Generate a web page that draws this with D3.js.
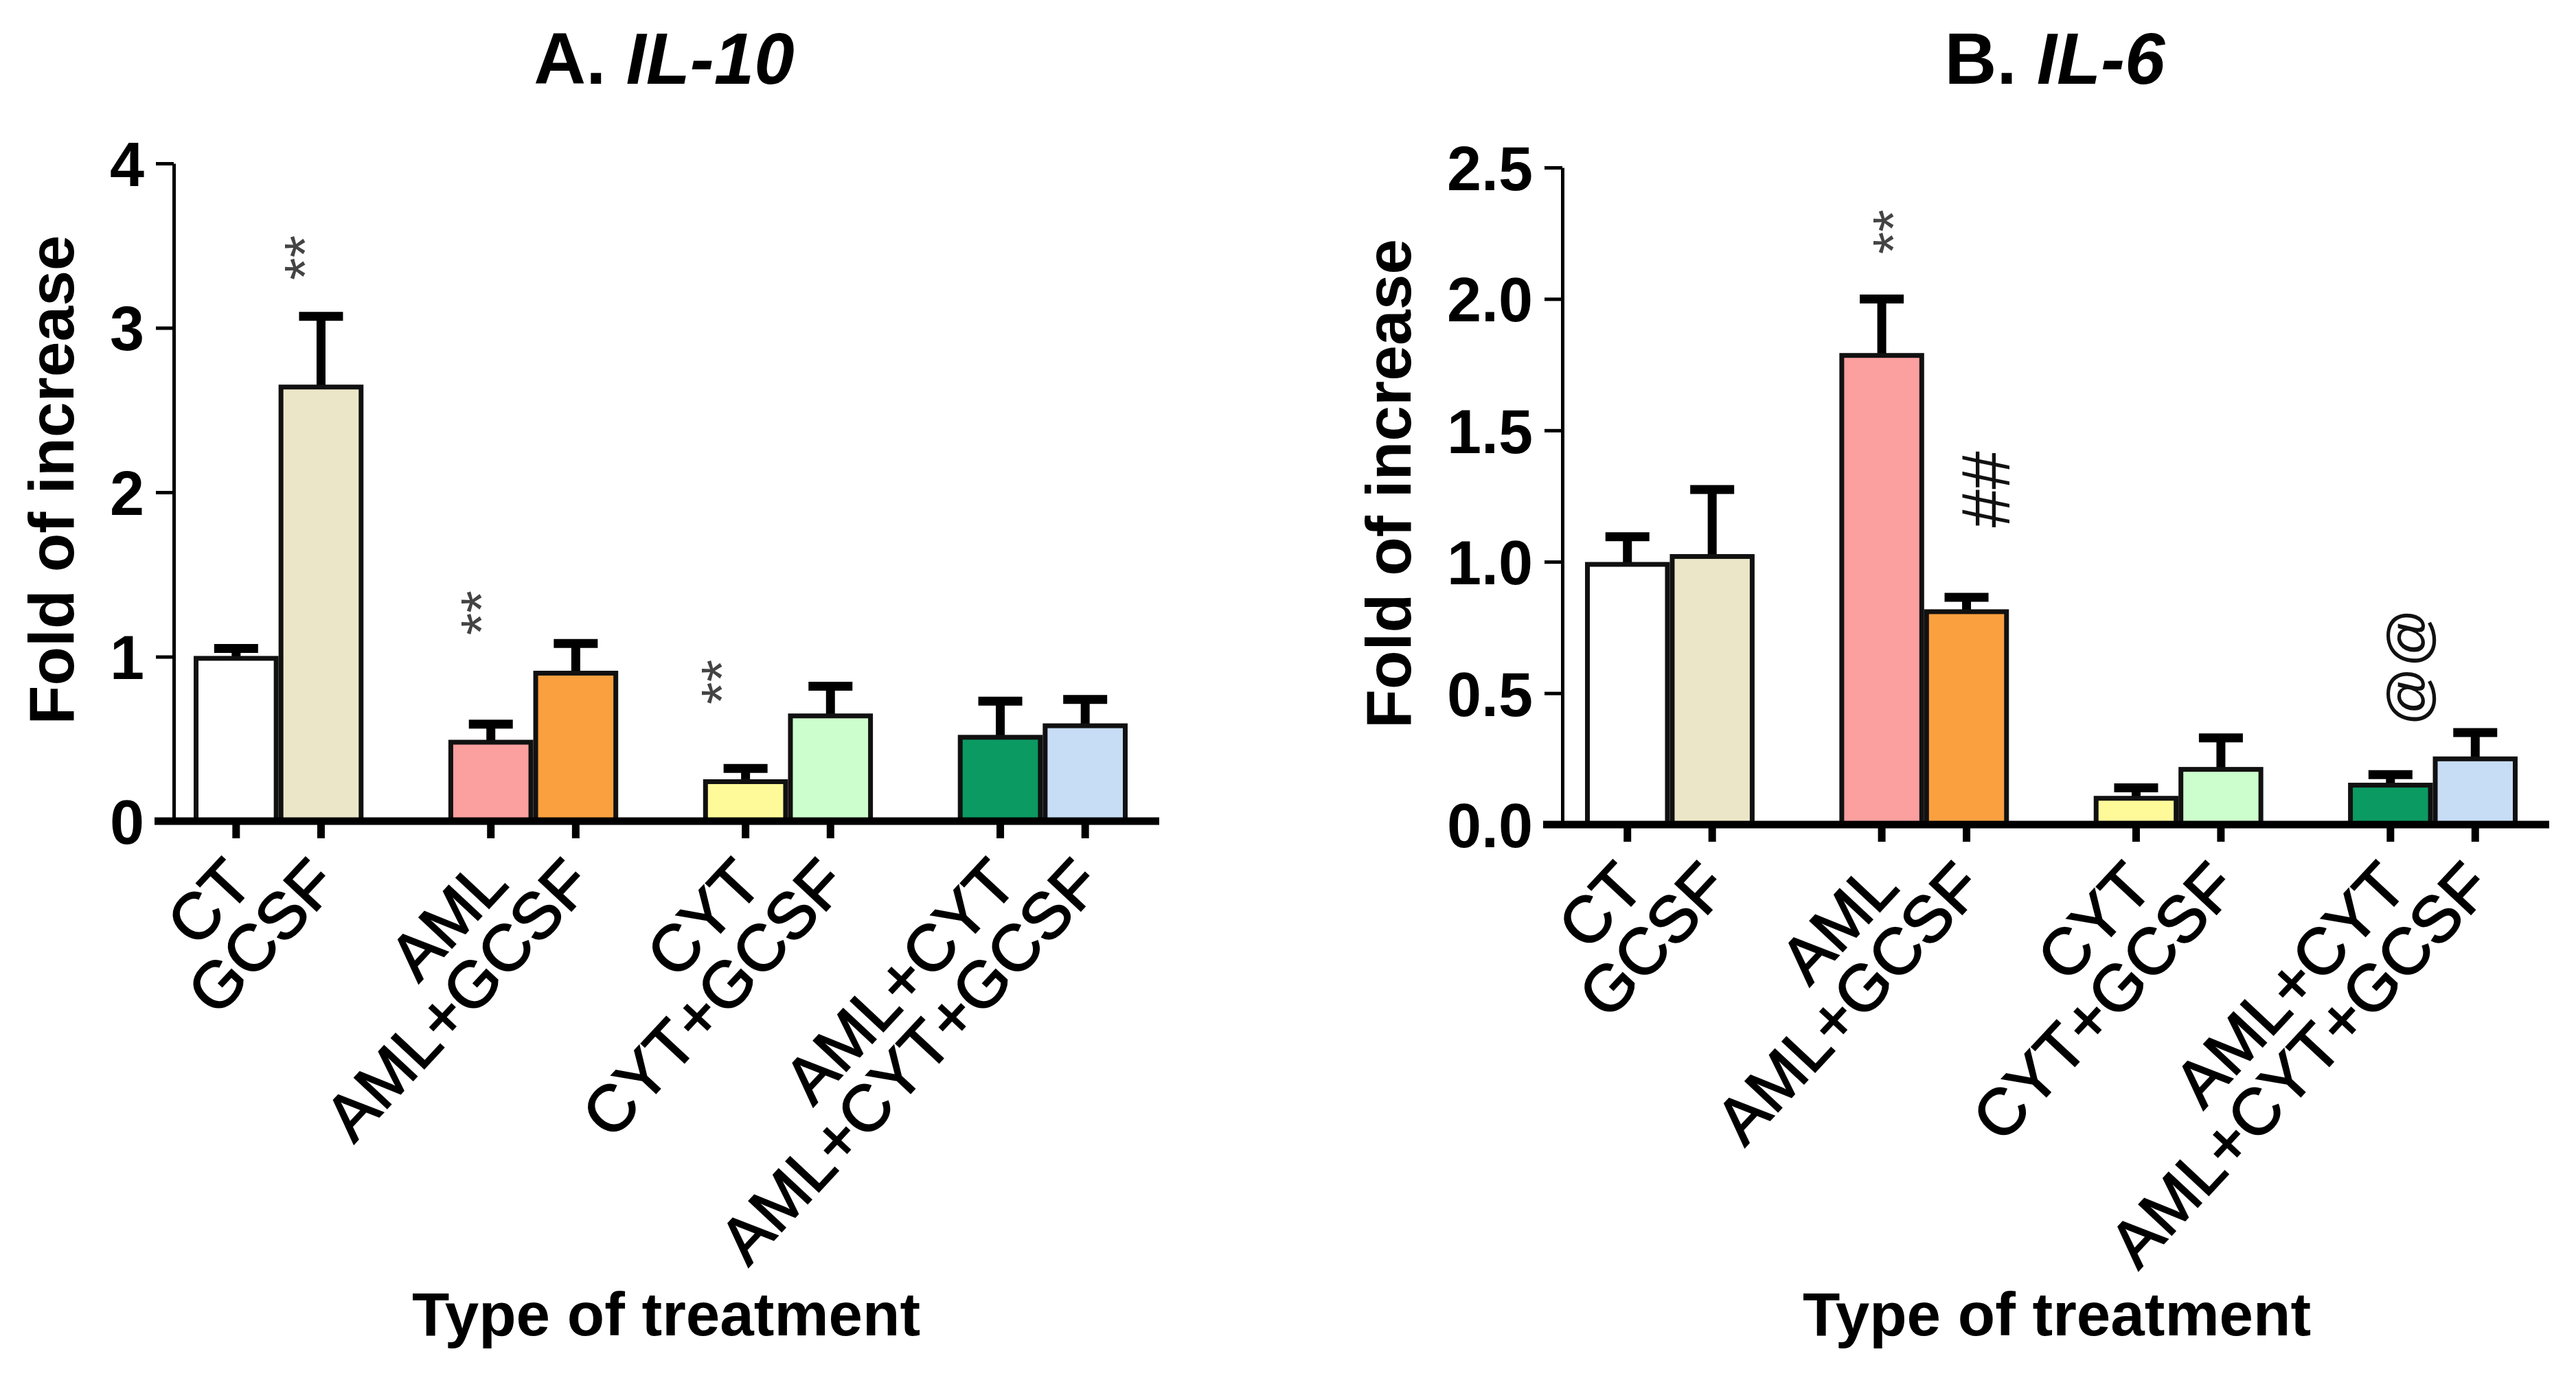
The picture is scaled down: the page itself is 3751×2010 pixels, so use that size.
<!DOCTYPE html>
<html>
<head>
<meta charset="utf-8">
<script src="https://cdn.jsdelivr.net/npm/d3@7"></script>
<style>
  body { margin: 0; background: #fff; }
  text { font-family: "Liberation Sans", Arial, sans-serif; }
</style>
</head>
<body>
<div id="chart"></div>
<script>
// treatments, in plot order (pairs sit together, one empty slot between pairs)
var categories = ["CT", "GCSF", "AML", "AML+GCSF", "CYT", "CYT+GCSF", "AML+CYT", "AML+CYT+GCSF"];
var pairOf = [0, 0, 1, 1, 2, 2, 3, 3];
var barColors = ["#ffffff", "#ece6c8", "#fb9f9f", "#fba03e", "#fefa9a", "#ccfdcc", "#0b9a62", "#c7dcf5"];

// A. IL-10
var il10Mean = [0.99, 2.64, 0.48, 0.90, 0.24, 0.64, 0.51, 0.58];
var il10Sem = [0.06, 0.43, 0.11, 0.18, 0.08, 0.18, 0.22, 0.16];
var il10Ticks = [0, 1, 2, 3, 4];
var il10Notes = [
    { cat: "GCSF", text: "**", at: 3.29, dx: -0.19 },
    { cat: "AML", text: "**", at: 1.13, dx: -0.11 },
    { cat: "CYT", text: "**", at: 0.71, dx: -0.28 }
];

// B. IL-6
var il6Mean = [0.99, 1.02, 1.785, 0.81, 0.10, 0.21, 0.15, 0.25];
var il6Sem = [0.105, 0.255, 0.215, 0.055, 0.04, 0.12, 0.04, 0.10];
var il6Ticks = [0, 0.5, 1, 1.5, 2, 2.5];
var il6Notes = [
    { cat: "AML", text: "**", at: 2.17, dx: 0.14 },
    { cat: "AML+GCSF", text: "##", at: 1.13, dx: 0.22 },
    { cat: "AML+CYT", text: "@@", at: 0.376, dx: 0.21 }
];

var width = 3751;
var height = 2010;

var svg = d3.select('#chart')
    .append('svg')
    .attr('width', width)
    .attr('height', height);

var panels = [
    { letter: "A. ", gene: "IL-10", mean: il10Mean, sem: il10Sem, ticks: il10Ticks, fmt: d3.format("d"),
      notes: il10Notes, axisX: 253, y0: 1196, y1: 238, slotStart: 282, slotEnd: 1642 },
    { letter: "B. ", gene: "IL-6", mean: il6Mean, sem: il6Sem, ticks: il6Ticks, fmt: d3.format(".1f"),
      notes: il6Notes, axisX: 2275, y0: 1201, y1: 244, slotStart: 2308, slotEnd: 3666 }
];

panels.forEach(drawPanel);

function drawPanel(p) {
    var g = svg.append('g');

    var data = categories.map(function (c, i) {
        return { cat: c, slot: i + pairOf[i], mean: p.mean[i], sem: p.sem[i], color: barColors[i] };
    });
    var slotOf = {};
    data.forEach(function (d) { slotOf[d.cat] = d.slot; });

    var x = d3.scaleBand()
        .domain(d3.range(11))
        .range([p.slotStart, p.slotEnd])
        .paddingInner(0);

    var y = d3.scaleLinear()
        .domain([0, d3.max(p.ticks)])
        .range([p.y0, p.y1]);

    var sw = 7;
    var bw = x.bandwidth();
    var cx = function (slot) { return x(slot) + bw / 2; };

    // error bars (upper only), drawn under the bars
    var err = g.append('g');
    err.selectAll('line.stem')
        .data(data)
        .enter()
        .append('line')
        .attr('x1', function (d) { return cx(d.slot); })
        .attr('x2', function (d) { return cx(d.slot); })
        .attr('y1', function (d) { return y(d.mean); })
        .attr('y2', function (d) { return y(d.mean + d.sem); })
        .attr('stroke', '#000')
        .attr('stroke-width', 13);
    err.selectAll('line.cap')
        .data(data)
        .enter()
        .append('line')
        .attr('x1', function (d) { return cx(d.slot) - 32; })
        .attr('x2', function (d) { return cx(d.slot) + 32; })
        .attr('y1', function (d) { return y(d.mean + d.sem); })
        .attr('y2', function (d) { return y(d.mean + d.sem); })
        .attr('stroke', '#000')
        .attr('stroke-width', 13);

    // bars
    g.append('g')
        .selectAll('rect')
        .data(data)
        .enter()
        .append('rect')
        .attr('x', function (d) { return x(d.slot) + sw / 2; })
        .attr('y', function (d) { return y(d.mean); })
        .attr('width', bw - sw)
        .attr('height', function (d) { return y(0) - y(d.mean); })
        .attr('fill', function (d) { return d.color; })
        .attr('stroke', '#111')
        .attr('stroke-width', sw);

    // y axis
    var yAxis = d3.axisLeft(y)
        .tickValues(p.ticks)
        .tickFormat(p.fmt)
        .tickSize(26)
        .tickSizeOuter(0)
        .tickPadding(17);
    var yg = g.append('g')
        .attr('transform', 'translate(' + p.axisX + ',0)')
        .call(yAxis);
    yg.select('.domain').attr('stroke', '#000').attr('stroke-width', 5);
    yg.selectAll('.tick line').attr('stroke', '#000').attr('stroke-width', 5);
    yg.selectAll('.tick text')
        .attr('font-size', 90)
        .attr('font-weight', 'bold')
        .attr('fill', '#000')
        .attr('dy', '0.36em');

    // x axis
    var occupied = data.map(function (d) { return d.slot; });
    var xAxis = d3.axisBottom(x)
        .tickValues(occupied)
        .tickFormat('')
        .tickSize(25)
        .tickSizeOuter(0);
    var xg = g.append('g')
        .attr('transform', 'translate(0,' + p.y0 + ')')
        .call(xAxis);
    xg.select('.domain').remove();
    xg.selectAll('.tick line').attr('stroke', '#000').attr('stroke-width', 11);
    xg.append('line')
        .attr('x1', p.axisX - 28)
        .attr('x2', p.slotEnd + 46)
        .attr('y1', 0)
        .attr('y2', 0)
        .attr('stroke', '#000')
        .attr('stroke-width', 11);

    // rotated category labels
    g.append('g')
        .selectAll('text')
        .data(data)
        .enter()
        .append('text')
        .attr('transform', function (d) {
            return 'translate(' + (cx(d.slot) + 28) + ',' + (p.y0 + 94) + ') rotate(-47)';
        })
        .attr('text-anchor', 'end')
        .attr('font-size', 95)
        .attr('fill', '#000')
        .attr('stroke', '#000')
        .attr('stroke-width', 2)
        .text(function (d) { return d.cat; });

    // significance marks
    g.append('g')
        .selectAll('text')
        .data(p.notes)
        .enter()
        .append('text')
        .attr('transform', function (d) {
            return 'translate(' + (cx(slotOf[d.cat]) + d.dx * bw) + ',' + y(d.at) + ') rotate(-90)';
        })
        .attr('text-anchor', 'start')
        .attr('dominant-baseline', 'central')
        .attr('font-size', function (d) { return d.text === '##' ? 100 : 84; })
        .attr('fill', function (d) { return d.text === '**' ? '#444' : '#111'; })
        .text(function (d) { return d.text; });

    // y title, left of the tick labels
    var tickBox = yg.node().getBBox();
    var titleX = p.axisX + tickBox.x - 53;
    g.append('text')
        .attr('transform', 'translate(' + titleX + ',' + ((p.y0 + p.y1) / 2 - 18) + ') rotate(-90)')
        .attr('text-anchor', 'middle')
        .attr('font-size', 93)
        .attr('font-weight', 'bold')
        .attr('fill', '#000')
        .text('Fold of increase');

    var mid = (p.slotStart + p.slotEnd) / 2;

    // x title
    g.append('text')
        .attr('x', mid + 8)
        .attr('y', 1945)
        .attr('text-anchor', 'middle')
        .attr('font-size', 89)
        .attr('font-weight', 'bold')
        .attr('fill', '#000')
        .text('Type of treatment');

    // panel title
    var t = g.append('text')
        .attr('x', mid + 5)
        .attr('y', 122)
        .attr('text-anchor', 'middle')
        .attr('font-size', 105)
        .attr('font-weight', 'bold')
        .attr('fill', '#000');
    t.append('tspan').text(p.letter);
    t.append('tspan').attr('font-style', 'italic').text(p.gene);
}
</script>
</body>
</html>
